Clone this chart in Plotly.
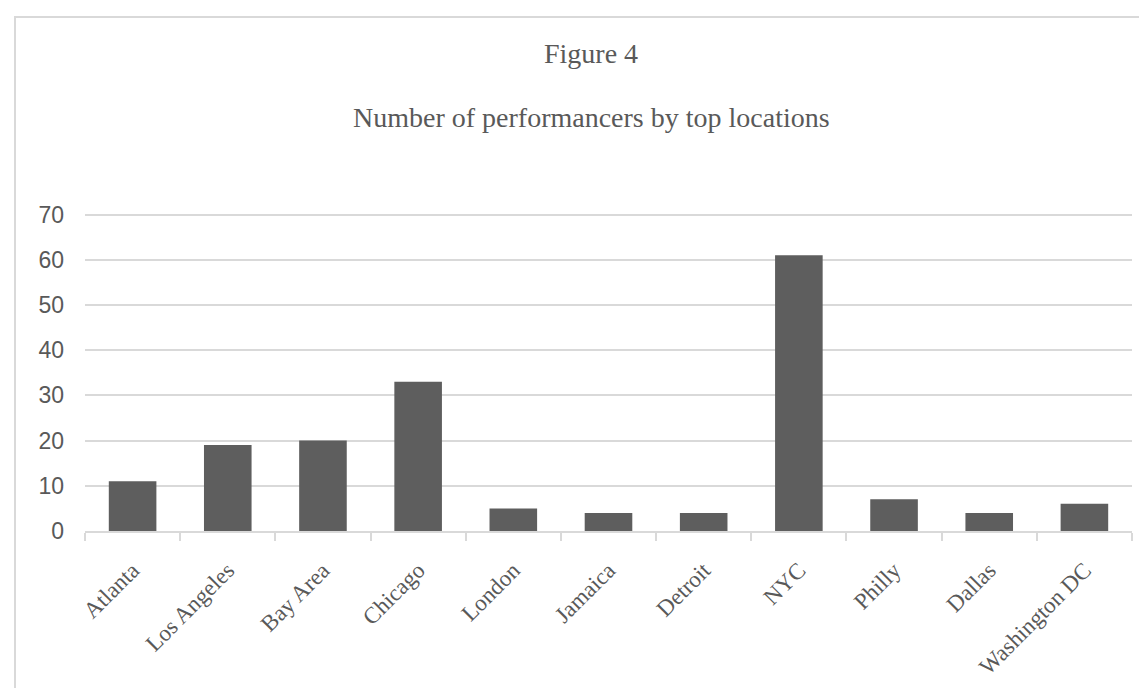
import plotly.graph_objects as go

categories = ["Atlanta", "Los Angeles", "Bay Area", "Chicago", "London", "Jamaica",
              "Detroit", "NYC", "Philly", "Dallas", "Washington DC"]
values = [11, 19, 20, 33, 5, 4, 4, 61, 7, 4, 6]
y_ticks = [0, 10, 20, 30, 40, 50, 60, 70]
title_line1 = "Figure 4"
title_line2 = "Number of performancers by top locations"

W, H = 1147, 688
L, R, T, B = 77, 23, 202, 165
pw, ph = W - L - R, H - T - B

def px_x(x):
    return (x - L) / pw

def px_y(y):
    return (H - B - y) / ph

fig = go.Figure(go.Bar(x=categories, y=values, marker_color="#5e5e5e",
                       marker_line_width=0))

text_color = "#595959"
serif = "Liberation Serif, Times New Roman, serif"
fig.update_layout(
    width=W, height=H,
    margin=dict(l=L, r=R, t=T, b=B),
    paper_bgcolor="white", plot_bgcolor="white",
    bargap=0.5,
    showlegend=False,
    xaxis=dict(
        type="category",
        tickangle=-45,
        tickson="boundaries",
        ticks="outside", ticklen=8, tickcolor="#d9d9d9", tickwidth=1.5,
        showline=True, linecolor="#d9d9d9", linewidth=1.5,
        showgrid=False,
        ticklabelstandoff=15,
        tickfont=dict(family=serif, size=23, color=text_color),
    ),
    yaxis=dict(
        range=[0, 71], tickvals=y_ticks,
        showgrid=True, gridcolor="#d9d9d9", gridwidth=1.5,
        zeroline=False, showline=False, ticks="",
        ticklabelstandoff=20,
        tickfont=dict(family="Liberation Sans, Arial, sans-serif", size=23, color=text_color),
    ),
    annotations=[
        dict(text=title_line1, xref="paper", yref="paper", x=px_x(583), y=px_y(46),
             xanchor="center", yanchor="middle", showarrow=False,
             font=dict(family=serif, size=28, color=text_color)),
        dict(text=title_line2, xref="paper", yref="paper", x=px_x(583), y=px_y(110),
             xanchor="center", yanchor="middle", showarrow=False,
             font=dict(family=serif, size=28, color=text_color)),
    ],
    shapes=[
        dict(type="rect", xref="paper", yref="paper",
             x0=px_x(7), y0=px_y(H + 20), x1=px_x(W + 20), y1=px_y(9),
             line=dict(color="#d9d9d9", width=2), fillcolor="rgba(0,0,0,0)", layer="below"),
    ],
)

fig.write_html("out.html")
